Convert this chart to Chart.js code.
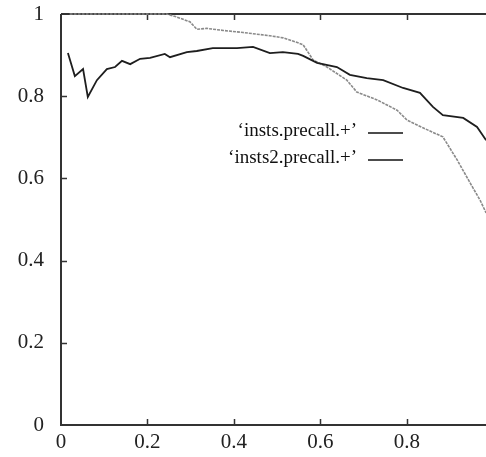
<!DOCTYPE html>
<html>
<head>
<meta charset="utf-8">
<script src="https://cdn.jsdelivr.net/npm/chart.js@4.4.1/dist/chart.umd.min.js"></script>
<style>
  html, body { margin: 0; padding: 0; background: #fff; }
  #wrap { width: 486px; height: 457px; }
</style>
</head>
<body>
<div id="wrap"><canvas id="prChart" width="486" height="457"></canvas></div>
<script>
// precision / recall curves
const precallX = [0.016, 0.032, 0.051, 0.062, 0.083, 0.106, 0.125, 0.141, 0.16, 0.183, 0.206, 0.24, 0.252, 0.291, 0.314, 0.351, 0.407, 0.444, 0.483, 0.513, 0.548, 0.56, 0.592, 0.638, 0.668, 0.707, 0.745, 0.791, 0.83, 0.86, 0.883, 0.93, 0.962, 0.983];
const precallY = [0.905, 0.849, 0.866, 0.798, 0.839, 0.866, 0.871, 0.886, 0.878, 0.891, 0.893, 0.903, 0.895, 0.907, 0.91, 0.917, 0.917, 0.92, 0.905, 0.907, 0.903, 0.898, 0.881, 0.871, 0.852, 0.844, 0.839, 0.82, 0.808, 0.774, 0.754, 0.747, 0.725, 0.693];
const precall2X = [0.02, 0.244, 0.267, 0.298, 0.314, 0.337, 0.375, 0.421, 0.452, 0.483, 0.514, 0.548, 0.56, 0.583, 0.615, 0.661, 0.684, 0.731, 0.777, 0.8, 0.837, 0.883, 0.916, 0.946, 0.969, 0.983];
const precall2Y = [1, 1, 0.993, 0.981, 0.963, 0.965, 0.96, 0.955, 0.951, 0.947, 0.942, 0.93, 0.925, 0.888, 0.871, 0.839, 0.81, 0.791, 0.766, 0.742, 0.723, 0.701, 0.645, 0.589, 0.547, 0.516];
const seriesNames = ['\u2018insts.precall.+\u2019', '\u2018insts2.precall.+\u2019'];
const xTicks = [0, 0.2, 0.4, 0.6, 0.8];
const yTicks = [0, 0.2, 0.4, 0.6, 0.8, 1];

const toPoints = (xs, ys) => xs.map((x, i) => ({ x: x, y: ys[i] }));

const serif = 'Liberation Serif, Times New Roman, serif';

// frame and inward ticks go under the curves, the key on top
const framePlugin = {
  id: 'frame',
  beforeDatasetsDraw(chart) {
    const ctx = chart.ctx;
    const a = chart.chartArea;
    const xs = chart.scales.x, ys = chart.scales.y;
    ctx.save();
    ctx.strokeStyle = '#333';
    ctx.lineWidth = 2;
    ctx.beginPath();
    ctx.moveTo(a.left, a.top);
    ctx.lineTo(a.right + 2, a.top);
    ctx.moveTo(a.left, a.top);
    ctx.lineTo(a.left, a.bottom);
    ctx.lineTo(a.right + 2, a.bottom);
    ctx.stroke();
    ctx.lineWidth = 1.5;
    ctx.beginPath();
    xTicks.forEach(v => {
      if (v === 0) return;
      const px = Math.round(xs.getPixelForValue(v)) + 0.5;
      ctx.moveTo(px, a.bottom);
      ctx.lineTo(px, a.bottom - 6);
      ctx.moveTo(px, a.top);
      ctx.lineTo(px, a.top + 6);
    });
    yTicks.forEach(v => {
      if (v === 0 || v === 1) return;
      const py = Math.round(ys.getPixelForValue(v)) + 0.5;
      ctx.moveTo(a.left, py);
      ctx.lineTo(a.left + 6, py);
    });
    ctx.stroke();
    ctx.restore();
  },
  afterDraw(chart) {
    const ctx = chart.ctx;
    ctx.save();
    ctx.font = '19px ' + serif;
    ctx.fillStyle = '#111';
    ctx.textAlign = 'right';
    ctx.textBaseline = 'middle';
    ctx.strokeStyle = '#111';
    ctx.lineWidth = 1.6;
    seriesNames.forEach((name, i) => {
      const y = 131 + i * 27;
      ctx.fillText(name, 357, y);
      ctx.beginPath();
      ctx.moveTo(368, y + 2);
      ctx.lineTo(403, y + 2);
      ctx.stroke();
    });
    ctx.restore();
  }
};

new Chart(document.getElementById('prChart'), {
  type: 'scatter',
  data: {
    datasets: [
      {
        label: seriesNames[0],
        data: toPoints(precallX, precallY),
        showLine: true,
        borderColor: '#1e1e1e',
        borderWidth: 1.8,
        pointRadius: 0,
        tension: 0,
        clip: 4
      },
      {
        label: seriesNames[1],
        data: toPoints(precall2X, precall2Y),
        showLine: true,
        borderColor: '#8a8a8a',
        borderWidth: 1.6,
        borderDash: [3, 1],
        pointRadius: 0,
        tension: 0,
        clip: 4
      }
    ]
  },
  options: {
    responsive: false,
    animation: false,
    layout: { padding: { left: 0, right: 0, top: 14, bottom: 0 } },
    plugins: {
      legend: { display: false },
      tooltip: { enabled: false }
    },
    scales: {
      x: {
        type: 'linear',
        min: 0,
        max: 0.9827,
        grid: { display: false },
        border: { display: false },
        afterBuildTicks: s => { s.ticks = xTicks.map(v => ({ value: v })); },
        afterFit: s => { s.height = 32; s.paddingLeft = 0; s.paddingRight = 0; },
        ticks: {
          padding: -3,
          color: '#222',
          font: { family: serif, size: 21 },
          callback: v => String(v)
        }
      },
      y: {
        type: 'linear',
        min: 0,
        max: 1,
        grid: { display: false },
        border: { display: false },
        afterBuildTicks: s => { s.ticks = yTicks.map(v => ({ value: v })); },
        afterFit: s => { s.width = 61; s.paddingTop = 0; s.paddingBottom = 0; },
        ticks: {
          padding: 9,
          color: '#222',
          font: { family: serif, size: 21 },
          callback: v => String(v)
        }
      }
    }
  },
  plugins: [framePlugin]
});
</script>
</body>
</html>
